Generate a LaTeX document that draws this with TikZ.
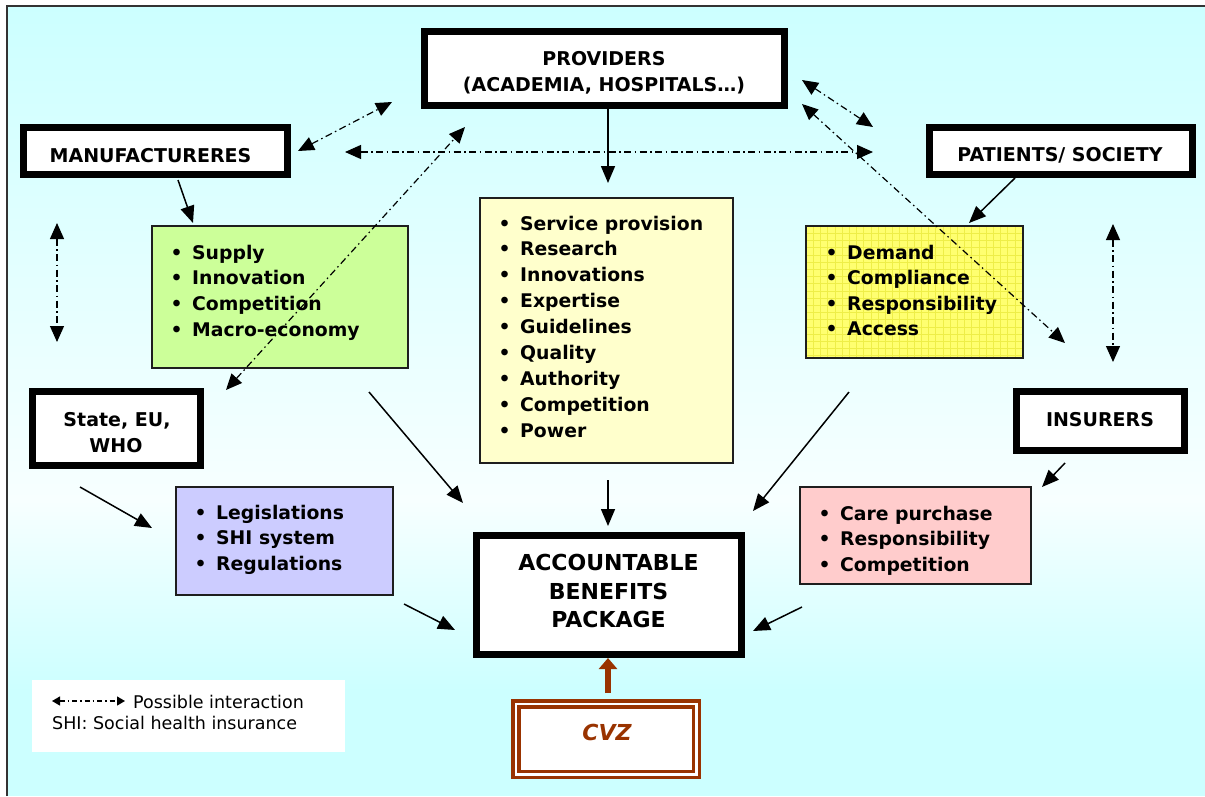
\documentclass[tikz,border=0pt]{standalone}
\usepackage{fontspec}
\setmainfont{DejaVu Sans}
\usetikzlibrary{arrows.meta,calc}
\definecolor{bgcyan}{HTML}{CCFFFF}
\definecolor{bglight}{HTML}{F7FFFF}
\definecolor{boxgreen}{HTML}{CCFF99}
\definecolor{boxcream}{HTML}{FFFFCC}
\definecolor{boxyellow}{HTML}{FFFF70}
\definecolor{gridyellow}{HTML}{EEEE48}
\definecolor{boxlilac}{HTML}{CCCCFF}
\definecolor{boxpink}{HTML}{FFCCCC}
\definecolor{cvzbrown}{HTML}{993300}
\definecolor{edge}{HTML}{1E1E1E}
\definecolor{framegray}{HTML}{333333}
% bullet hanging to the left of an item
\newcommand\itembul{\llap{\textbullet\hskip 9.5pt}}

\begin{document}
\begin{tikzpicture}[x=1pt,y=-1pt,
  actor/.style={draw=black, line width=7pt, fill=white, inner sep=0pt, outer sep=0pt},
  topic/.style={draw=edge, line width=1.5pt, inner sep=0pt, outer sep=0pt},
  headtxt/.style={anchor=base, inner sep=0pt, font=\fontsize{19}{24}\selectfont\bfseries},
  bigtxt/.style={anchor=base, inner sep=0pt, font=\fontsize{22}{28}\selectfont\bfseries},
  itemtxt/.style={anchor=base west, inner sep=0pt, font=\fontsize{18.8}{25}\selectfont\bfseries},
  legtxt/.style={anchor=base west, inner sep=0pt, font=\fontsize{17.5}{21}\selectfont},
  flow/.style={line width=1.5pt, -{Triangle[length=17pt,width=14pt]}},
  interact/.style={line width=1.2pt, dash pattern=on 7pt off 3.5pt on 1.5pt off 3.5pt,
    {Triangle[length=16pt,width=14pt]}-{Triangle[length=16pt,width=14pt]}},
  gridline/.style={draw=gridyellow, line width=0.6pt},
]
\useasboundingbox (0,0) rectangle (1205,796);
\fill[white] (0,0) rectangle (1205,796);

% background: cyan fading to near white and back
\shade[top color=bgcyan, bottom color=bglight] (7,6) rectangle (1205,500.5);
\shade[top color=bglight, bottom color=bgcyan] (7,500) rectangle (1205,690.5);
\fill[bgcyan] (7,690) rectangle (1205,796);
\draw[framegray, line width=1.3pt] (7,796) -- (7,6) -- (1205,6);

% legend panel
\node[fill=white, inner sep=0pt, outer sep=0pt, minimum width=313pt, minimum height=72pt] (legend) at (188.5,716) {};
\coordinate (lgA) at (52,701);
\coordinate (lgB) at (125,701);
\draw[line width=1.2pt, dash pattern=on 5pt off 3pt on 1.5pt off 3pt,
  {Triangle[length=8pt,width=9pt]}-{Triangle[length=8pt,width=9pt]}] (lgA) -- (lgB);
\node[legtxt] (legA) at (133,708) {Possible interaction};
\node[legtxt] (legB) at (52,729) {SHI: Social health insurance};

% stakeholders
\node[actor, minimum width=360pt, minimum height=74pt] (prov) at (604.5,68.5) {};
\node[headtxt] (provA) at (604,65) {PROVIDERS};
\node[headtxt] (provB) at (604,91) {(ACADEMIA, HOSPITALS…)};

\node[actor, minimum width=264pt, minimum height=47pt] (man) at (155.5,151) {};
\node[headtxt] (manT) at (150.5,162) {MANUFACTURERES};

\node[actor, minimum width=263pt, minimum height=47pt] (pat) at (1061,151) {};
\node[headtxt] (patT) at (1060,161) {PATIENTS/ SOCIETY};

\node[actor, minimum width=168pt, minimum height=74pt] (state) at (116.5,428.5) {};
\node[headtxt] (stateA) at (117,426) {State, EU,};
\node[headtxt] (stateB) at (116,452) {WHO};

\node[actor, minimum width=168pt, minimum height=59pt] (ins) at (1100.5,421) {};
\node[headtxt] (insT) at (1100,426) {INSURERS};

\node[actor, minimum width=265pt, minimum height=119pt] (acc) at (609,595) {};
\node[bigtxt] (accA) at (608.5,570) {ACCOUNTABLE};
\node[bigtxt] (accB) at (608.5,599) {BENEFITS};
\node[bigtxt] (accC) at (608.5,627) {PACKAGE};

% CVZ
\node[draw=cvzbrown, line width=3.5pt, double=white, double distance=2.5pt, fill=white,
  inner sep=0pt, outer sep=0pt, minimum width=180.5pt, minimum height=70.5pt] (cvz) at (606,739) {};
\node[anchor=base, inner sep=0pt, text=cvzbrown,
  font=\fontsize{22}{26}\selectfont\bfseries\itshape] (cvzT) at (607,740) {CVZ};

% topic boxes
\node[topic, fill=boxgreen, minimum width=256pt, minimum height=142pt] (green) at (280,297) {};
\node[topic, fill=boxcream, minimum width=253pt, minimum height=265pt] (cream) at (606.5,330.5) {};
\node[topic, fill=boxyellow, minimum width=217pt, minimum height=132pt] (yell) at (914.5,292) {};
\foreach \gx in {813.2,820.4,...,1020} \draw[gridline] (\gx,226.8) -- (\gx,357.2);
\foreach \gy in {233.2,240.4,...,356} \draw[gridline] (806.8,\gy) -- (1022.2,\gy);
\draw[edge, line width=1.5pt] (yell.south west) rectangle (yell.north east);
\node[topic, fill=boxlilac, minimum width=217pt, minimum height=108pt] (lilac) at (284.5,541) {};
\node[topic, fill=boxpink, minimum width=231pt, minimum height=97pt] (pink) at (915.5,535.5) {};

\foreach \t [count=\i from 0] in {Supply,Innovation,Competition,Macro-economy}
  \node[itemtxt] (grn\i) at (192,{259+25.7*\i}) {\itembul\t};
\foreach \t [count=\i from 0] in {Service provision,Research,Innovations,Expertise,Guidelines,Quality,Authority,Competition,Power}
  \node[itemtxt] (crm\i) at (520,{230+25.9*\i}) {\itembul\t};
\foreach \t [count=\i from 0] in {Demand,Compliance,Responsibility,Access}
  \node[itemtxt] (yel\i) at (847,{259+25.5*\i}) {\itembul\t};
\foreach \t [count=\i from 0] in {Legislations,SHI system,Regulations}
  \node[itemtxt] (lil\i) at (216,{519+25.7*\i}) {\itembul\t};
\foreach \t [count=\i from 0] in {Care purchase,Responsibility,Competition}
  \node[itemtxt] (pnk\i) at (840,{520+25.5*\i}) {\itembul\t};

% influences
\draw[flow] ($(man.south)+(22.5,5.5)$) -- ($(green.north)+(-87,-3)$);
\draw[flow] ($(prov.south)+(3.5,3.5)$) -- ($(cream.north)+(1.5,-15)$);
\draw[flow] ($(pat.south)+(-46,3.5)$) -- ($(yell.north)+(54.5,-3)$);
\draw[flow] ($(ins.south)+(-35.5,12.5)$) -- ($(pink.north east)+(11,0)$);
\draw[flow] ($(state.south)+(-36.5,21.5)$) -- ($(lilac.west)+(-24,-13)$);
\draw[flow] ($(green.south)+(89,24)$) -- ($(acc.north west)+(-13.5,-32.5)$);
\draw[flow] ($(cream.south)+(1.5,17)$) -- ($(acc.north)+(-1,-9.5)$);
\draw[flow] ($(yell.south)+(-65.5,34)$) -- ($(acc.north east)+(11.5,-24.5)$);
\draw[flow] ($(lilac.south east)+(11,9)$) -- ($(acc.west)+(-21.5,35)$);
\draw[flow] ($(pink.south west)+(2,23)$) -- ($(acc.east)+(11.5,36)$);
\draw[cvzbrown, line width=6.5pt, -{Triangle[length=11pt,width=18pt]}]
  ($(cvz.north)+(2,-10.75)$) -- ($(acc.south)+(-1,3.5)$);

% possible interactions
\draw[interact] ($(man.east)+(10.5,0)$) -- ($(prov.south west)+(-32.5,-3.5)$);
\draw[interact] ($(man.east)+(57.5,1)$) -- ($(pat.west)+(-56.5,1)$);
\draw[interact] ($(state.north east)+(25.5,-1.5)$) -- ($(prov.south west)+(40.5,21.5)$);
\draw[interact] ($(prov.east)+(17.5,11.5)$) -- ($(pat.west)+(-56.5,-24)$);
\draw[interact] ($(prov.east)+(17.5,35.5)$) -- ($(ins.north)+(-35.5,-48.5)$);
\draw[interact] ($(man.south)+(-98.5,48.5)$) -- ($(state.north)+(-59.5,-49.5)$);
\draw[interact] ($(pat.south)+(52,49.5)$) -- ($(ins.north)+(12.5,-29.5)$);
\end{tikzpicture}
\end{document}
